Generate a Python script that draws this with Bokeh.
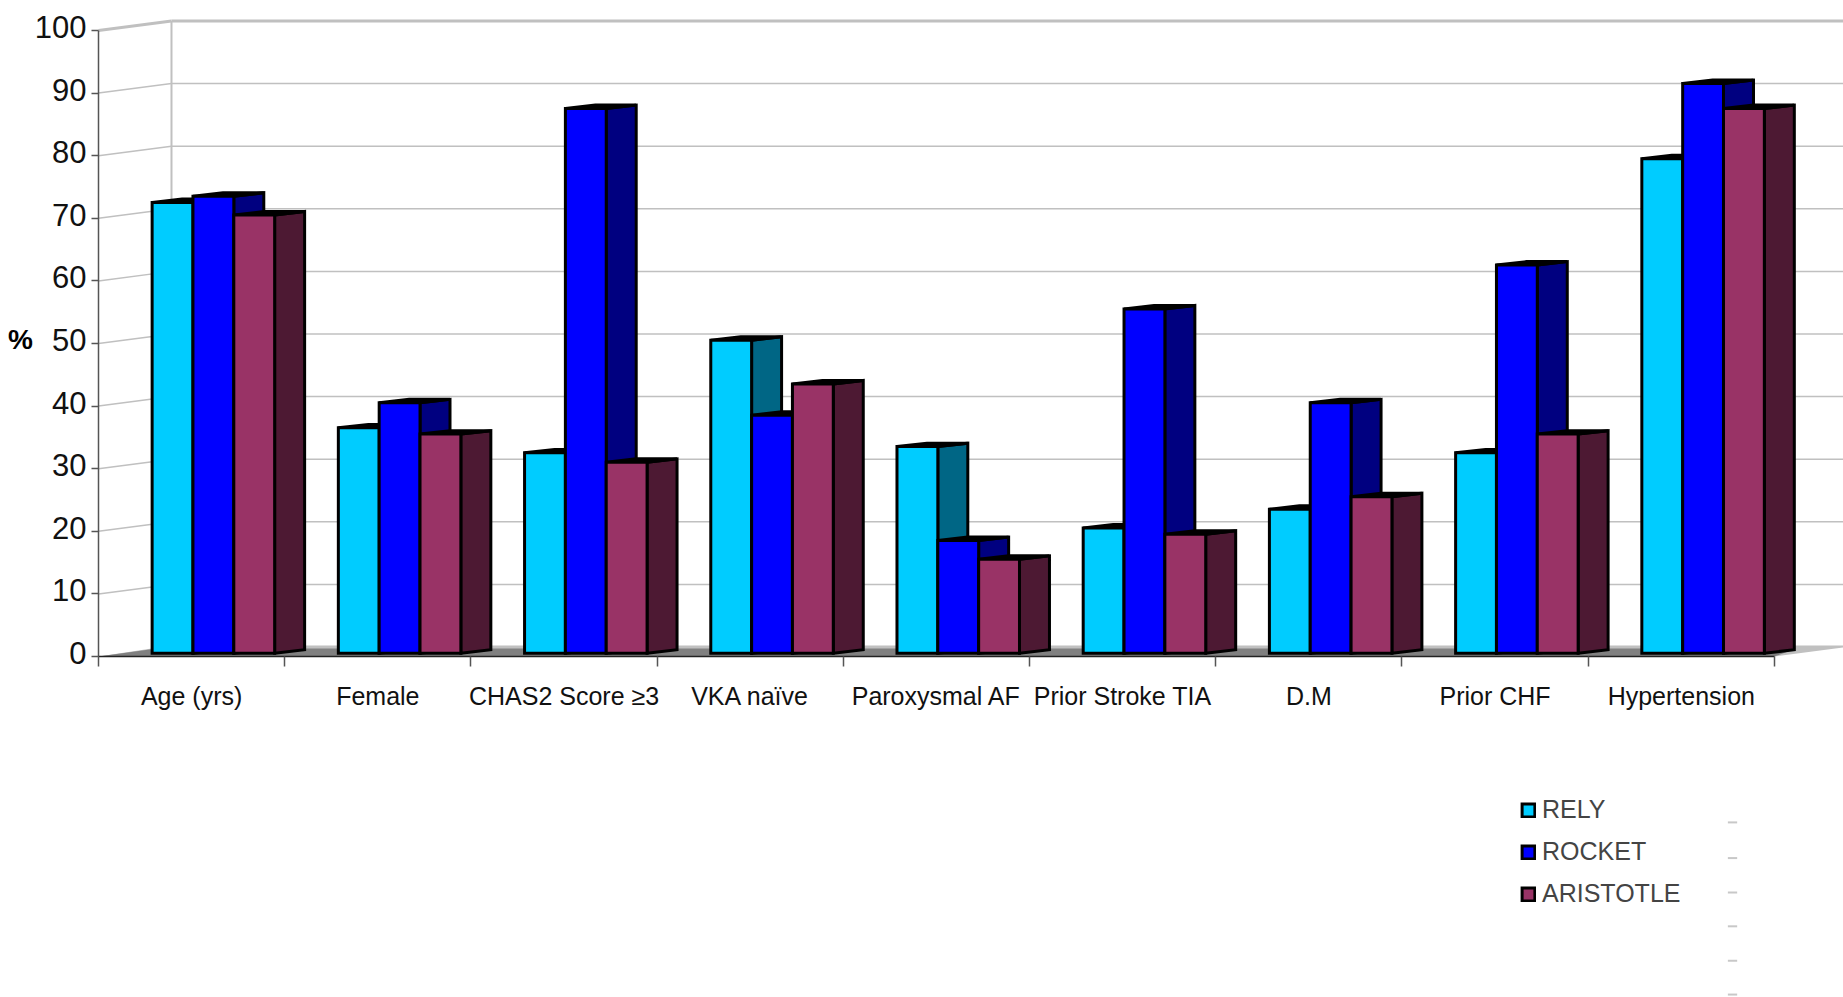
from bokeh.embed import file_html
from bokeh.models import (FixedTicker, Label, Legend, LegendItem, LinearAxis, Range1d)
from bokeh.plotting import figure
from bokeh.resources import INLINE

# Baseline characteristics per trial, in percent
categories = ["Age (yrs)", "Female", "CHAS2 Score ≥3", "VKA naïve", "Paroxysmal AF",
              "Prior Stroke TIA", "D.M", "Prior CHF", "Hypertension"]
rely = [72, 36, 32, 50, 33, 20, 23, 32, 79]
rocket = [73, 40, 87, 38, 18, 55, 40, 62, 91]
aristotle = [70, 35, 30.5, 43, 15, 19, 25, 35, 87]

series_names = ["RELY", "ROCKET", "ARISTOTLE"]
y_ticks = [0, 10, 20, 30, 40, 50, 60, 70, 80, 90, 100]

front_colors = ["#00CCFF", "#0000FF", "#993366"]
side_colors = ["#006685", "#000080", "#4D1933"]

# Projection of the pseudo-3D box, in axis units
WALL_DX, WALL_DY = 0.392, 1.52
FLOOR_BACK, FLOOR_SHADE = 1.75, 1.28
BAR_DX, BAR_DY = 0.161, 0.55
BAR_W = 0.2193
BAR_START = 0.288
BASE_Y = 0.53
LABEL_NUDGE = 0.55

X_MIN, X_MAX = -0.5263, 9.371
Y_MIN, Y_MAX = -54.47, 104.79

FONT = "Liberation Sans"

p = figure(width=1843, height=997, output_backend="svg", toolbar_location=None,
           x_axis_location=None, y_axis_location=None,
           x_range=Range1d(X_MIN, X_MAX), y_range=Range1d(Y_MIN, Y_MAX),
           min_border=0, min_border_left=0, min_border_right=0,
           min_border_top=0, min_border_bottom=0,
           outline_line_color=None, background_fill_color="white")
p.grid.visible = False

# Floor of the box: a pale back band and a darker band in front of it
p.patch([0, WALL_DX, X_MAX + 1, 9 + WALL_DX, 9],
        [0, FLOOR_BACK, FLOOR_BACK, WALL_DY, 0], fill_color="#C0C0C0", line_color=None)
p.patch([0, WALL_DX * 0.8, 9 + WALL_DX * 0.3, 9],
        [0, FLOOR_SHADE, FLOOR_SHADE, 0], fill_color="#808080", line_color=None)

# Side wall, back wall and gridlines
for v in y_ticks[1:]:
    w = 3 if v == 100 else 1.5
    p.line([0, WALL_DX], [v, v + WALL_DY], line_color="#C0C0C0", line_width=w)
    p.line([WALL_DX, X_MAX], [v + WALL_DY, v + WALL_DY], line_color="#C0C0C0", line_width=w)
p.line([WALL_DX, WALL_DX], [WALL_DY, 100 + WALL_DY], line_color="#C0C0C0", line_width=2)

# Bars: side, top and front faces for each trial
legend_items = []
for s, values in enumerate([rely, rocket, aristotle]):
    fx, fy, sx, sy, tx, ty = [], [], [], [], [], []
    for i, v in enumerate(values):
        x0 = i + BAR_START + s * BAR_W
        x1 = x0 + BAR_W
        top = BASE_Y + v
        fx.append([x0, x1, x1, x0])
        fy.append([BASE_Y, BASE_Y, top, top])
        sx.append([x1, x1 + BAR_DX, x1 + BAR_DX, x1])
        sy.append([BASE_Y, BASE_Y + BAR_DY, top + BAR_DY, top])
        tx.append([x0, x1, x1 + BAR_DX, x0 + BAR_DX])
        ty.append([top, top, top + BAR_DY, top + BAR_DY])
    style = dict(line_color="black", line_width=3, line_join="miter")
    p.patches(sx, sy, fill_color=side_colors[s], **style)
    p.patches(tx, ty, fill_color="black", **style)
    front = p.patches(fx, fy, fill_color=front_colors[s], **style)
    legend_items.append(LegendItem(label=series_names[s], renderers=[front], index=0))

# Value axis: numbers sit a little above their tick marks, which are the minor ticks
p.line([0, 0], [y_ticks[0], y_ticks[-1]], line_color="#555555", line_width=1.5)
label_pos = [v + LABEL_NUDGE for v in y_ticks]
y_axis = LinearAxis(fixed_location=0,
                    ticker=FixedTicker(ticks=label_pos, minor_ticks=y_ticks),
                    major_label_overrides={k: str(v) for k, v in zip(label_pos, y_ticks)})
y_axis.axis_line_color = None
y_axis.major_tick_line_color = None
y_axis.major_tick_in = 0
y_axis.major_tick_out = 7
y_axis.minor_tick_line_color = "#555555"
y_axis.minor_tick_line_width = 1.5
y_axis.minor_tick_in = 0
y_axis.minor_tick_out = 7
y_axis.major_label_standoff = 5
y_axis.major_label_text_font = FONT
y_axis.major_label_text_font_size = "31px"
y_axis.major_label_text_color = "#111111"
p.add_layout(y_axis, "left")

# Category axis: labels centred in each slot, ticks on the slot edges
centres = [i + 0.5 for i in range(len(categories))]
x_axis = LinearAxis(fixed_location=0, bounds=(0, 9),
                    ticker=FixedTicker(ticks=centres, minor_ticks=list(range(10))),
                    major_label_overrides=dict(zip(centres, categories)))
x_axis.axis_line_color = "#222222"
x_axis.axis_line_width = 1.5
x_axis.major_tick_line_color = None
x_axis.major_tick_in = 0
x_axis.major_tick_out = 0
x_axis.minor_tick_line_color = "#555555"
x_axis.minor_tick_line_width = 1.5
x_axis.minor_tick_in = 0
x_axis.minor_tick_out = 10
x_axis.major_label_standoff = 15
x_axis.major_label_text_font = FONT
x_axis.major_label_text_font_size = "25px"
x_axis.major_label_text_color = "#111111"
p.add_layout(x_axis, "below")

p.add_layout(Label(x=-0.419, y=50.7, text="%", text_font=FONT,
                   text_font_size="28px", text_font_style="bold",
                   text_align="center", text_baseline="middle", text_color="black"))

# Small stray dashes right of the legend
dash_x = [8.75, 8.80]
dash_y = [-26.5, -32.2, -37.7, -43.1, -48.6, -54.0]
for d in dash_y:
    p.line(dash_x, [d, d], line_color="#C8C8C8", line_width=2)

legend = Legend(items=legend_items, location=(1520, 89), orientation="vertical",
                background_fill_alpha=0, border_line_color=None, padding=0, margin=0,
                glyph_width=16, glyph_height=16, label_standoff=6, spacing=13,
                label_height=26, label_text_font=FONT,
                label_text_font_size="25px", label_text_color="#444444")
p.add_layout(legend)

open("out.html", "w").write(file_html(p, INLINE))
